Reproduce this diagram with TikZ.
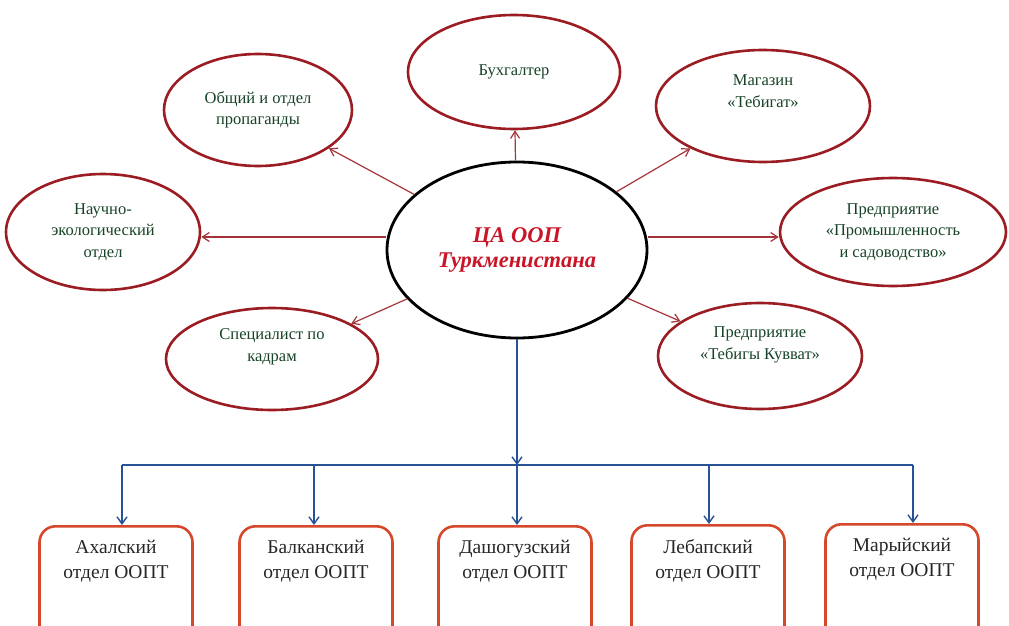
\documentclass[tikz,border=0pt]{standalone}
\usepackage{fontspec}
\setmainfont{Liberation Serif}
\usetikzlibrary{shapes.geometric,arrows.meta}
\definecolor{ellred}{RGB}{155,28,35}
\definecolor{boxred}{RGB}{214,72,44}
\definecolor{txtgreen}{RGB}{22,66,38}
\definecolor{ctrred}{RGB}{200,22,40}
\definecolor{arrred}{RGB}{165,52,58}
\definecolor{arrblue}{RGB}{40,82,150}
\tikzset{
  sat/.style={ellipse, draw=ellred, line width=2.6pt, inner sep=0pt, align=center,
    text=txtgreen, font=\fontsize{16.5}{21.5}\selectfont},
  ctr/.style={ellipse, draw=black, line width=2.8pt, inner sep=0pt, align=center,
    text=ctrred, font=\fontsize{22.5}{25.5}\selectfont\bfseries\itshape},
  dept/.style={rectangle, rounded corners=16pt, draw=boxred, line width=2.6pt,
    minimum width=153pt, minimum height=130pt, inner sep=0pt, anchor=north},
  depttxt/.style={anchor=north, align=center, inner sep=0pt,
    font=\fontsize{19.5}{25}\selectfont, text=black!85},
  rarr/.style={draw=arrred, line width=1.2pt, -{Straight Barb[length=7pt,width=9pt]}},
  barr/.style={draw=arrblue, line width=1.4pt, -{Straight Barb[length=7pt,width=10pt]}},
  bline/.style={draw=arrblue, line width=1.4pt}
}
\begin{document}
\begin{tikzpicture}[x=1pt,y=-1pt]
\useasboundingbox (0,0) rectangle (1009,626);
\clip (0,0) rectangle (1009,626);
% centre
\node[ctr, minimum width=260pt, minimum height=176pt] (c) at (517,250) {ЦА ООП\\Туркменистана};
% satellites
\node[sat, minimum width=212pt, minimum height=114pt] (buh) at (514,72) {Бухгалтер};
\node[sat, minimum width=214pt, minimum height=112pt] (mag) at (763,106) {Магазин\\«Тебигат»\\[8pt]};
\node[sat, minimum width=188pt, minimum height=112pt] (obs) at (258,110) {Общий и отдел\\пропаганды};
\node[sat, minimum width=194pt, minimum height=116pt] (nau) at (103,232) {Научно-\\экологический\\отдел};
\node[sat, minimum width=226pt, minimum height=108pt] (prom) at (893,232) {Предприятие\\«Промышленность\\и садоводство»};
\node[sat, minimum width=212pt, minimum height=102pt] (spec) at (272,359) {Специалист по\\кадрам\\[6pt]};
\node[sat, minimum width=204pt, minimum height=106pt] (teb) at (760,356) {Предприятие\\«Тебигы Кувват»\\[4pt]};
% red arrows
\draw[rarr] (c) -- (buh);
\draw[rarr] (c) -- (mag);
\draw[rarr] (c) -- (obs);
\draw[rarr] (c.west |- 0,237) -- (nau.east |- 0,237);
\draw[rarr] (c.east |- 0,237) -- (prom.west |- 0,237);
\draw[rarr] (c) -- (spec);
\draw[rarr] (c) -- (teb);
% departments
\node[dept] (b1) at (116,525) {};
\node[dept] (b2) at (316,525) {};
\node[dept] (b3) at (515,525) {};
\node[dept] (b4) at (708,524) {};
\node[dept] (b5) at (902,523) {};
\node[depttxt] (t1) at ([yshift=-15pt]b1.north) {Ахалский\\отдел ООПТ};
\node[depttxt] (t2) at ([yshift=-15pt]b2.north) {Балканский\\отдел ООПТ};
\node[depttxt] (t3) at ([yshift=-15pt]b3.north) {Дашогузский\\отдел ООПТ};
\node[depttxt] (t4) at ([yshift=-15pt]b4.north) {Лебапский\\отдел ООПТ};
\node[depttxt] (t5) at ([yshift=-15pt]b5.north) {Марыйский\\отдел ООПТ};
% blue tree
\coordinate (j) at (517,465);
\coordinate (l) at (122,465);
\coordinate (r) at (913,465);
\draw[barr] (c.south) -- (j);
\draw[bline] (l) -- (r);
\draw[barr] (l) -- (l |- b1.north);
\draw[barr] (314,465) -- (314,525);
\draw[barr] (j) -- (j |- b3.north);
\draw[barr] (709,465) -- (709,524);
\draw[barr] (r) -- (r |- b5.north);
\end{tikzpicture}
\end{document}
